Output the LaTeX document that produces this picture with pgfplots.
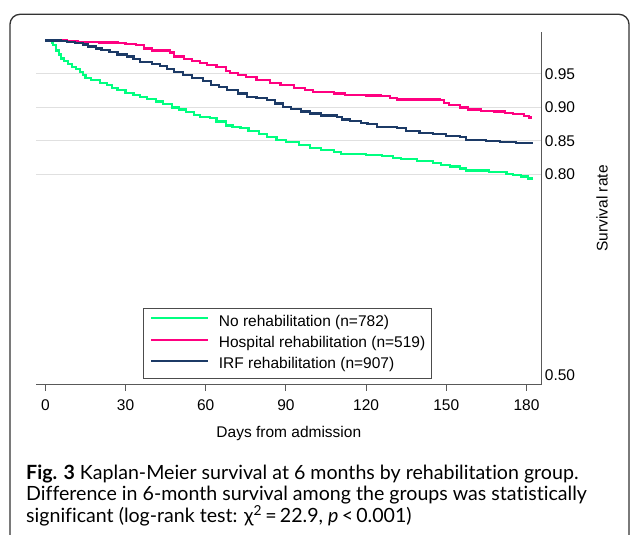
\documentclass[border=0pt]{standalone}
\usepackage{fontspec}
\setmainfont{Liberation Sans}
\newfontfamily\capfont[Ligatures=NoCommon]{Lato}
\usepackage{pgfplots}
\pgfplotsset{compat=1.18}

\definecolor{norehab}{RGB}{0,255,128}
\definecolor{hosp}{RGB}{255,0,128}
\definecolor{irf}{RGB}{28,58,102}
\definecolor{gridgray}{RGB}{224,224,224}

\begin{document}
\begin{tikzpicture}[x=1pt,y=1pt]
\clip (0,0) rectangle (630,535);
\draw[line width=1.3pt, black!80, rounded corners=10pt] (10,-20) -- (10,520.7) -- (629,520.7) -- (629,-20);

\begin{axis}[
  at={(36pt,150pt)}, anchor=south west,
  scale only axis, width=505.7pt, height=353.3pt,
  xmin=-3.5, xmax=185.7, ymin=0.4858, ymax=1.0131,
  axis x line*=bottom, axis y line*=right,
  axis line style={-, black!65, line width=1pt},
  font=\fontsize{15.5}{18}\selectfont,
  /pgf/number format/assume math mode=true,
  xtick={0,30,...,180},
  tick align=outside, major tick length=6pt,
  x tick style={black!65, line width=1pt},
  xticklabel style={anchor=center, inner sep=0pt, yshift=-14pt},
  ytick={0.80,0.85,0.90,0.95},
  yticklabels={0.80,0.85,0.90,0.95},
  extra y ticks={0.5}, extra y tick labels={0.50},
  extra y tick style={grid=none},
  y tick style={draw=none},
  yticklabel pos=right,
  yticklabel style={anchor=west, inner sep=1.5pt, xshift=-4.5pt},
  ymajorgrids, grid style={gridgray, line width=1pt},
  xlabel={Days from admission},
  xlabel style={at={(axis description cs:0.5,-0.1364)}, anchor=center},
  ylabel={Survival rate},
  ylabel style={at={(axis description cs:1.1193,0.5)}, anchor=center, rotate=0},
  legend style={at={(axis description cs:0.2122,0.2171)}, anchor=north west,
    draw=black!70, line width=0.8pt, fill=white,
    font=\fontsize{15.5}{18}\selectfont, inner xsep=6.5pt, inner ysep=6.5pt,
    nodes={inner sep=0pt, text height=11pt, text depth=3.5pt},
    row sep=6.8pt,
    /tikz/every odd column/.append style={column sep=9.7pt}},
  legend cell align=left,
  legend image code/.code={\draw[#1, line width=2pt] (0pt,4pt) -- (57pt,4pt);},
]
\addplot[const plot, norehab, line width=2.2pt] coordinates {
(0,1.000) (2.4,0.997) (3,0.993) (4,0.985) (5,0.979) (6,0.973) (7,0.969)
(8.5,0.965) (10,0.961) (11.5,0.957) (13,0.953) (14,0.948) (15,0.944)
(17,0.941) (20.5,0.937) (23,0.933) (25,0.929) (27,0.926) (30,0.922)
(33,0.919) (35.5,0.916) (38,0.913) (41.5,0.909) (44,0.905) (47.5,0.900)
(50,0.897) (52.5,0.893) (55.5,0.889) (58,0.886) (61.5,0.884) (64,0.879)
(67.5,0.873) (70,0.871) (73,0.869) (76,0.865) (80,0.860) (83,0.856)
(86.5,0.851) (90,0.848) (95,0.844) (99,0.840) (103,0.836) (108,0.834)
(110.5,0.831) (120,0.829) (126,0.827) (130,0.825) (133,0.823) (139,0.820)
(145,0.817) (148,0.814) (151.5,0.812) (155,0.809) (157.5,0.806) (166,0.804)
(172.5,0.801) (175,0.799) (178,0.797) (180.5,0.794) (182,0.792)};
\addlegendentry{No rehabilitation (n=782)}
\addplot[const plot, hosp, line width=2.2pt] coordinates {
(0,1.000) (8,0.999) (12,0.998) (20,0.997) (27,0.996) (30,0.995) (34,0.993)
(37,0.988) (40,0.985) (46.5,0.982) (48,0.976) (52,0.972) (55,0.969)
(58,0.966) (60.5,0.963) (64,0.961) (67.5,0.955) (69,0.952) (72,0.948)
(75,0.945) (79,0.941) (84,0.936) (88,0.933) (93,0.929) (97,0.926)
(100,0.923) (108,0.921) (112,0.919) (120,0.918) (125.5,0.917) (129,0.914)
(131.5,0.912) (147.5,0.911) (149,0.907) (151,0.904) (155,0.900) (158,0.897)
(163,0.895) (168,0.894) (172,0.892) (175,0.890) (179,0.887) (181,0.885)
(182,0.885)};
\addlegendentry{Hospital rehabilitation (n=519)}
\addplot[const plot, irf, line width=2.2pt] coordinates {
(0,1.000) (6,0.999) (8,0.998) (11,0.996) (14,0.994) (16,0.991) (19,0.988)
(21,0.986) (24,0.983) (27,0.979) (30.5,0.976) (33,0.972) (35.5,0.968)
(40,0.965) (43,0.962) (45.5,0.957) (48,0.953) (51.5,0.949) (55,0.944)
(59,0.939) (62,0.934) (65,0.930) (68,0.926) (72,0.921) (75.5,0.916)
(79,0.914) (83,0.911) (86,0.906) (89,0.901) (92,0.898) (95.5,0.894)
(99,0.891) (103,0.888) (109,0.886) (111,0.882) (114,0.880) (118,0.877)
(120.5,0.875) (124,0.871) (131.5,0.869) (135,0.865) (140,0.862) (145,0.860)
(150,0.858) (155,0.856) (157.5,0.851) (165,0.850) (170,0.849) (176,0.847)
(182,0.846)};
\addlegendentry{IRF rehabilitation (n=907)}
\end{axis}

\begin{scope}[font=\capfont\fontsize{19.6}{22}\selectfont]
\node[anchor=base west, inner sep=0pt] at (26,55) {\textbf{Fig. 3} Kaplan-Meier survival at 6 months by rehabilitation group.};
\node[anchor=base west, inner sep=0pt] at (26,34) {Difference in 6-month survival among the groups was statistically};
\node[anchor=base west, inner sep=0pt] at (26,12) {significant (log-rank test: χ\textsuperscript{2}\,=\,22.9, \textit{p}\,<\,0.001)};
\end{scope}
\end{tikzpicture}
\end{document}
